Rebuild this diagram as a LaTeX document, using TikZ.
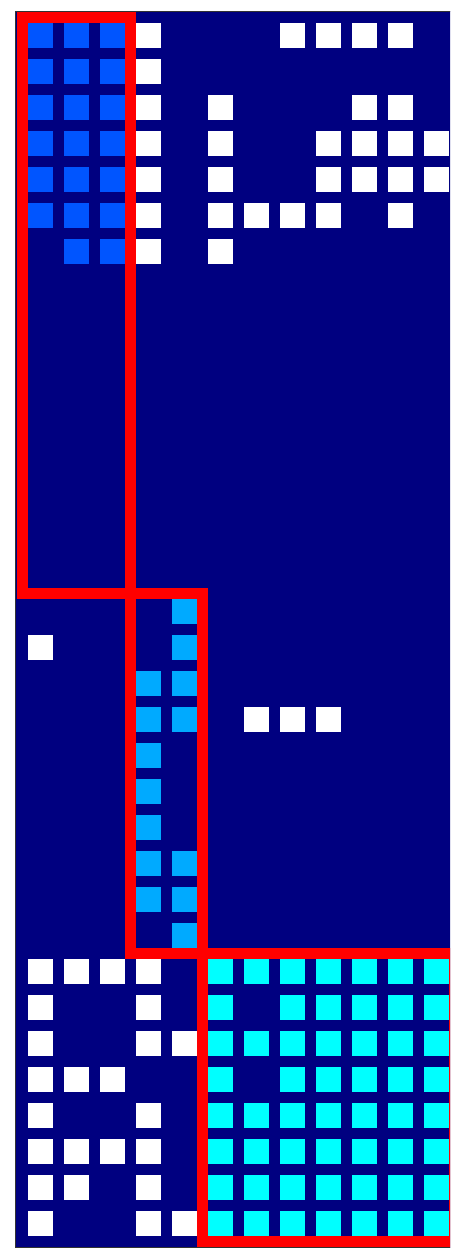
\documentclass[tikz,border=0pt]{standalone}
\begin{document}
\begin{tikzpicture}[x=1pt,y=-1pt,
  blk/.style={fill={rgb,255:red,0;green,85;blue,255}},
  lbl/.style={fill={rgb,255:red,0;green,170;blue,255}},
  cyn/.style={fill={rgb,255:red,0;green,255;blue,255}},
  wht/.style={fill=white},
  redbox/.style={draw={rgb,255:red,255;green,0;blue,0},line width=11.5pt,line join=miter}]
\useasboundingbox (0,0) rectangle (450,1249);
\clip (0,0) rectangle (450,1249);
\fill[fill={rgb,255:red,0;green,0;blue,128},draw=black!80,line width=0.8pt] (15.5,11.5) rectangle (470,1247.5);
% block 1 (blue)
\foreach \r/\c in {0/0,0/1,0/2,1/0,1/1,1/2,2/0,2/1,2/2,3/0,3/1,3/2,4/0,4/1,4/2,5/0,5/1,5/2,6/1,6/2}
  \fill[blk] ({28+36*\c},{23+36*\r}) rectangle ++(25,25);
% block 2 (light blue)
\foreach \r/\c in {16/4,17/4,18/3,18/4,19/3,19/4,20/3,21/3,22/3,23/3,23/4,24/3,24/4,25/4}
  \fill[lbl] ({28+36*\c},{23+36*\r}) rectangle ++(25,25);
% block 3 (cyan)
\foreach \r in {26,28,30,31,32,33}
  \foreach \c in {5,...,11}
    \fill[cyn] ({28+36*\c},{23+36*\r}) rectangle ++(25,25);
\foreach \r in {27,29}
  \foreach \c in {5,7,8,9,10,11}
    \fill[cyn] ({28+36*\c},{23+36*\r}) rectangle ++(25,25);
% white off-block entries
\foreach \r/\c in {0/3,0/7,0/8,0/9,0/10,
  1/3,
  2/3,2/5,2/9,2/10,
  3/3,3/5,3/8,3/9,3/10,3/11,
  4/3,4/5,4/8,4/9,4/10,4/11,
  5/3,5/5,5/6,5/7,5/8,5/10,
  6/3,6/5,
  17/0,
  19/6,19/7,19/8,
  26/0,26/1,26/2,26/3,
  27/0,27/3,
  28/0,28/3,28/4,
  29/0,29/1,29/2,
  30/0,30/3,
  31/0,31/1,31/2,31/3,
  32/0,32/1,32/3,
  33/0,33/3,33/4}
  \fill[wht] ({28+36*\c},{23+36*\r}) rectangle ++(25,25);
% red block outlines
\draw[redbox] (22.5,17.5) rectangle (130.5,593.5);
\draw[redbox] (130.5,593.5) rectangle (202.5,953.5);
\draw[redbox] (202.5,953.5) rectangle (454.5,1241.5);
\end{tikzpicture}
\end{document}
